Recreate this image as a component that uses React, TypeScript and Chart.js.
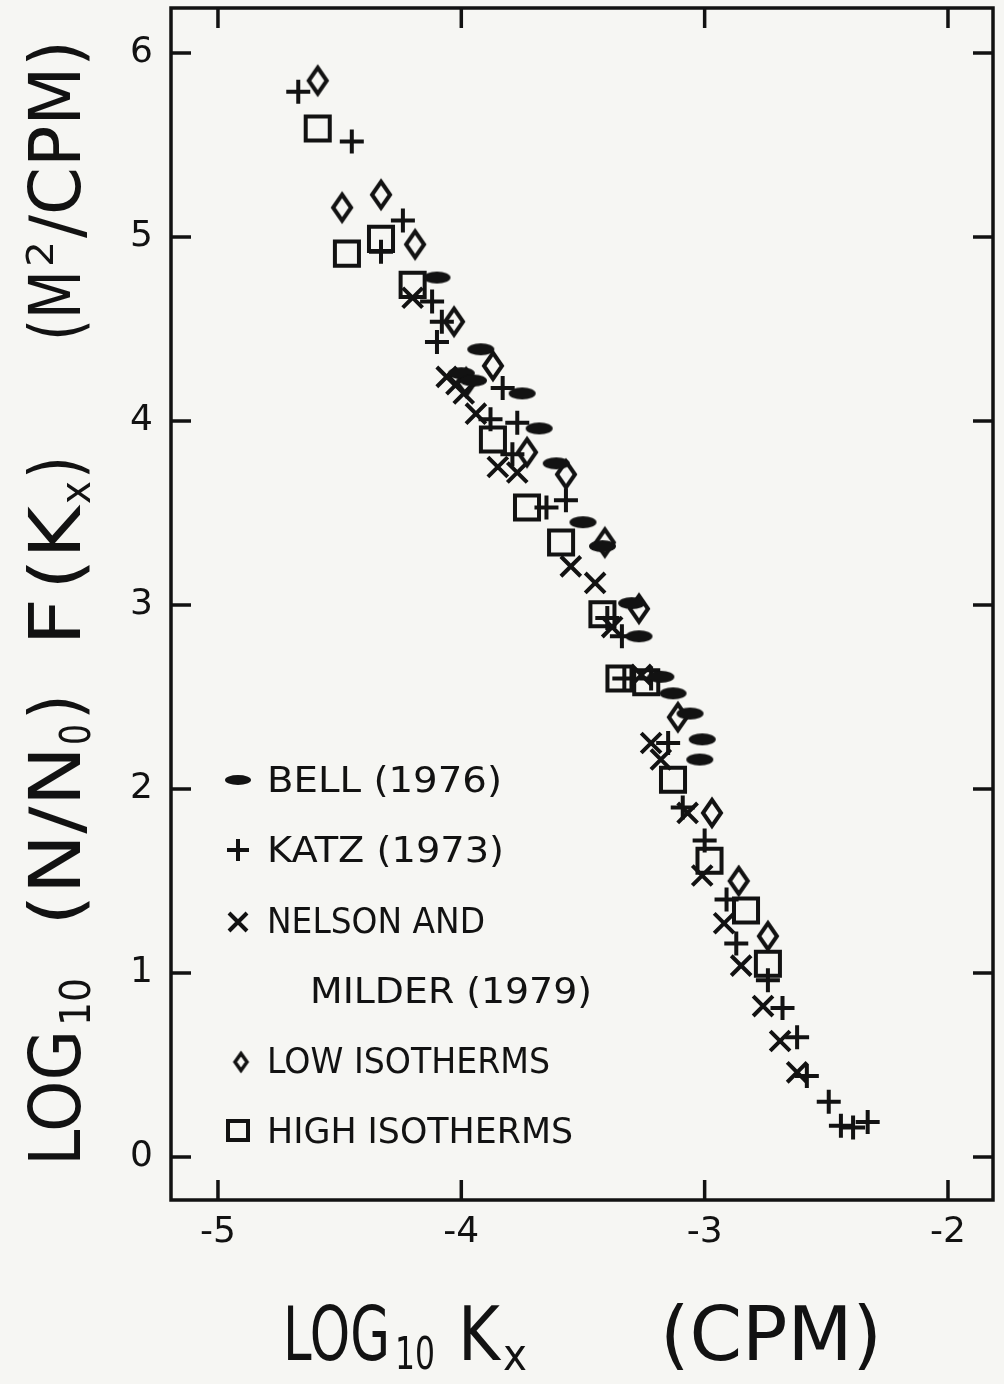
import React, { useEffect, useRef } from "react";
import { Chart, registerables } from "chart.js";

Chart.register(...registerables);

// ---------- data ----------
const xTicks = [-5, -4, -3, -2];
const yTicks = [0, 1, 2, 3, 4, 5, 6];
const xMin = -5.193;
const xMax = -1.815;
const yMin = -0.234;
const yMax = 6.245;

const bell: [number, number][] = [
  [-4.1, 4.78], [-3.92, 4.39], [-4.0, 4.26], [-3.95, 4.22], [-3.75, 4.15],
  [-3.68, 3.96], [-3.61, 3.77], [-3.5, 3.45], [-3.42, 3.32], [-3.3, 3.01],
  [-3.27, 2.83], [-3.18, 2.61], [-3.13, 2.52], [-3.06, 2.41], [-3.01, 2.27],
  [-3.02, 2.16],
];
const katz: [number, number][] = [
  [-4.67, 5.79], [-4.45, 5.52], [-4.24, 5.09], [-4.33, 4.92], [-4.12, 4.65],
  [-4.08, 4.54], [-4.1, 4.43], [-3.83, 4.18], [-3.88, 4.01], [-3.77, 3.99],
  [-3.79, 3.82], [-3.65, 3.53], [-3.57, 3.57], [-3.4, 2.93], [-3.34, 2.83],
  [-3.33, 2.6], [-3.22, 2.6], [-3.15, 2.25], [-3.09, 1.9], [-3.0, 1.72],
  [-2.91, 1.4], [-2.87, 1.16], [-2.74, 0.96], [-2.68, 0.81], [-2.62, 0.65],
  [-2.58, 0.44], [-2.49, 0.3], [-2.44, 0.17], [-2.39, 0.16], [-2.33, 0.19],
];
const nelson: [number, number][] = [
  [-4.2, 4.67], [-4.06, 4.24], [-4.02, 4.2], [-3.99, 4.15], [-3.94, 4.04],
  [-3.85, 3.75], [-3.77, 3.72], [-3.55, 3.21], [-3.45, 3.12], [-3.38, 2.88],
  [-3.26, 2.62], [-3.22, 2.25], [-3.18, 2.16], [-3.07, 1.87], [-3.01, 1.53],
  [-2.92, 1.27], [-2.85, 1.04], [-2.76, 0.82], [-2.69, 0.63], [-2.62, 0.46],
];
const lowIso: [number, number][] = [
  [-4.59, 5.85], [-4.33, 5.23], [-4.49, 5.16], [-4.19, 4.96], [-4.03, 4.54],
  [-3.87, 4.3], [-3.98, 4.21], [-3.73, 3.83], [-3.57, 3.71], [-3.41, 3.34],
  [-3.27, 2.98], [-3.11, 2.39], [-2.97, 1.87], [-2.86, 1.5], [-2.74, 1.2],
];
const highIso: [number, number][] = [
  [-4.59, 5.59], [-4.47, 4.91], [-4.33, 4.99], [-4.2, 4.74], [-3.87, 3.9],
  [-3.73, 3.53], [-3.59, 3.34], [-3.42, 2.95], [-3.35, 2.6], [-3.24, 2.58],
  [-3.13, 2.05], [-2.98, 1.61], [-2.83, 1.34], [-2.74, 1.05],
];

const legendLabels = ["BELL (1976)", "KATZ (1973)", "NELSON AND", "MILDER (1979)", "LOW ISOTHERMS", "HIGH ISOTHERMS"];

// ---------- style ----------
const BG = "#f6f6f3";
const INK = "#121212";
const FONT = "'DejaVu Sans', 'Liberation Sans', sans-serif";

function makeCanvas(w: number, h: number, draw: (c: CanvasRenderingContext2D) => void) {
  const c = document.createElement("canvas");
  c.width = w;
  c.height = h;
  const g = c.getContext("2d")!;
  draw(g);
  return c;
}

function ellipseMarker(w: number, h: number) {
  return makeCanvas(w + 2, h + 2, (g) => {
    g.fillStyle = INK;
    g.beginPath();
    g.ellipse((w + 2) / 2, (h + 2) / 2, w / 2, h / 2, 0, 0, Math.PI * 2);
    g.fill();
  });
}

function diamondMarker(w: number, h: number, lw: number) {
  const W = w + lw * 2 + 2;
  const H = h + lw * 2 + 2;
  return makeCanvas(W, H, (g) => {
    g.strokeStyle = INK;
    g.lineWidth = lw;
    g.lineJoin = "miter";
    g.beginPath();
    g.moveTo(W / 2, H / 2 - h / 2);
    g.lineTo(W / 2 + w / 2, H / 2);
    g.lineTo(W / 2, H / 2 + h / 2);
    g.lineTo(W / 2 - w / 2, H / 2);
    g.closePath();
    g.stroke();
  });
}

type Seg = { t: string; s: number; e: number; size: number; off: number };

function drawSegs(ctx: CanvasRenderingContext2D, segs: Seg[]) {
  for (const sg of segs) {
    ctx.save();
    ctx.font = `${sg.size}px ${FONT}`;
    const w = ctx.measureText(sg.t).width;
    ctx.translate(sg.s, sg.off);
    ctx.scale((sg.e - sg.s) / w, 1);
    ctx.textBaseline = "alphabetic";
    ctx.textAlign = "left";
    ctx.fillText(sg.t, 0, 0);
    ctx.restore();
  }
}

export default function App() {
  const ref = useRef<HTMLCanvasElement | null>(null);

  useEffect(() => {
    if (!ref.current) return;
    const bellImg = ellipseMarker(27, 12);
    const diamondImg = diamondMarker(18, 26, 4);
    const legBell = ellipseMarker(26, 10);
    const legDiamond = diamondMarker(12, 17, 3.5);

    const decor = {
      id: "decor",
      beforeDraw(chart: any) {
        const { ctx, width, height } = chart;
        ctx.save();
        ctx.fillStyle = BG;
        ctx.fillRect(0, 0, width, height);
        ctx.restore();
      },
      afterDatasetsDraw(chart: any) {
        const { ctx, chartArea: a, scales } = chart;
        ctx.save();
        ctx.strokeStyle = INK;
        ctx.fillStyle = INK;
        ctx.lineCap = "butt";
        // frame
        ctx.lineWidth = 3.5;
        ctx.strokeRect(a.left, a.top, a.right - a.left, a.bottom - a.top);
        // inward ticks on all four sides
        ctx.lineWidth = 3.5;
        const L = 20;
        ctx.beginPath();
        for (const v of xTicks) {
          const px = scales.x.getPixelForValue(v);
          ctx.moveTo(px, a.bottom);
          ctx.lineTo(px, a.bottom - L);
          ctx.moveTo(px, a.top);
          ctx.lineTo(px, a.top + L);
        }
        for (const v of yTicks) {
          const py = scales.y.getPixelForValue(v);
          ctx.moveTo(a.left, py);
          ctx.lineTo(a.left + L, py);
          ctx.moveTo(a.right, py);
          ctx.lineTo(a.right - L, py);
        }
        ctx.stroke();

        // legend
        const mx = a.left + 67;
        const tx = a.left + 96;
        const rows = [
          { b: 792, s: tx, e: tx + 235 },
          { b: 862, s: tx, e: tx + 237 },
          { b: 933, s: tx, e: tx + 218 },
          { b: 1003, s: tx + 43, e: tx + 325 },
          { b: 1073, s: tx, e: tx + 283 },
          { b: 1143, s: tx, e: tx + 306 },
        ];
        rows.forEach((r, i) => {
          drawSegs(ctx, [{ t: legendLabels[i], s: r.s, e: r.e, size: 35, off: r.b }]);
        });
        ctx.drawImage(legBell, mx - legBell.width / 2, 780 - legBell.height / 2);
        ctx.lineWidth = 4;
        ctx.beginPath();
        ctx.moveTo(mx - 11, 850);
        ctx.lineTo(mx + 11, 850);
        ctx.moveTo(mx, 839);
        ctx.lineTo(mx, 861);
        ctx.moveTo(mx - 9, 913);
        ctx.lineTo(mx + 9, 931);
        ctx.moveTo(mx + 9, 913);
        ctx.lineTo(mx - 9, 931);
        ctx.stroke();
        ctx.drawImage(legDiamond, mx + 3 - legDiamond.width / 2, 1062 - legDiamond.height / 2);
        ctx.lineWidth = 4;
        ctx.strokeRect(mx - 10, 1121, 20, 19);

        // x axis title
        ctx.save();
        ctx.translate(0, 1360);
        drawSegs(ctx, [
          { t: "LOG", s: 283, e: 390, size: 75, off: 0 },
          { t: "10", s: 395, e: 435, size: 45, off: 9 },
          { t: "K", s: 458, e: 500, size: 75, off: 0 },
          { t: "x", s: 503, e: 527, size: 45, off: 10 },
          { t: "(CPM)", s: 660, e: 882, size: 75, off: 0 },
        ]);
        ctx.restore();

        // y axis title (rotated)
        ctx.save();
        ctx.translate(80, 1166);
        ctx.rotate(-Math.PI / 2);
        drawSegs(ctx, [
          { t: "LOG", s: 0, e: 136, size: 71, off: 0 },
          { t: "10", s: 140, e: 188, size: 43, off: 10 },
          { t: "(N/N", s: 240, e: 420, size: 71, off: 0 },
          { t: "0", s: 421, e: 442, size: 43, off: 10 },
          { t: ")", s: 446, e: 472, size: 71, off: 0 },
          { t: "F", s: 520, e: 568, size: 71, off: 0 },
          { t: "(K", s: 576, e: 660, size: 71, off: 0 },
          { t: "x", s: 662, e: 685, size: 43, off: 10 },
          { t: ")", s: 687, e: 710, size: 71, off: 0 },
          { t: "(M", s: 825, e: 896, size: 71, off: 0 },
          { t: "2", s: 899, e: 925, size: 38, off: -27 },
          { t: "/CPM)", s: 928, e: 1126, size: 71, off: 0 },
        ]);
        ctx.restore();

        ctx.restore();
      },
    };

    const toPts = (arr: [number, number][]) => arr.map(([x, y]) => ({ x, y }));

    const chart = new Chart(ref.current, {
      type: "scatter",
      data: {
        datasets: [
          { label: legendLabels[0], data: toPts(bell), pointStyle: bellImg as any, pointRadius: 10, borderWidth: 0 },
          { label: legendLabels[1], data: toPts(katz), pointStyle: "cross", pointRadius: 12, borderColor: INK, borderWidth: 4 },
          { label: legendLabels[2], data: toPts(nelson), pointStyle: "crossRot", pointRadius: 14, borderColor: INK, borderWidth: 4 },
          { label: legendLabels[4], data: toPts(lowIso), pointStyle: diamondImg as any, pointRadius: 12, borderWidth: 0 },
          { label: legendLabels[5], data: toPts(highIso), pointStyle: "rect", pointRadius: 17, borderColor: INK, backgroundColor: "rgba(0,0,0,0)", borderWidth: 4 },
        ],
      },
      options: {
        animation: false,
        responsive: false,
        events: [],
        layout: { autoPadding: false, padding: { left: 0, top: 8, right: 11, bottom: 0 } },
        plugins: { legend: { display: false }, tooltip: { enabled: false } },
        scales: {
          x: {
            type: "linear",
            min: xMin,
            max: xMax,
            grid: { display: false, drawTicks: false },
            border: { display: false },
            ticks: {
              font: { family: FONT, size: 36 },
              color: INK,
              padding: 11,
              maxRotation: 0,
              autoSkip: false,
              callback: (v: any) => String(v),
            },
            afterBuildTicks: (s: any) => {
              s.ticks = xTicks.map((v) => ({ value: v }));
            },
            afterFit: (s: any) => {
              s.height = 184;
              s.paddingLeft = 0;
              s.paddingRight = 0;
            },
          },
          y: {
            type: "linear",
            min: yMin,
            max: yMax,
            grid: { display: false, drawTicks: false },
            border: { display: false },
            ticks: {
              font: { family: FONT, size: 36 },
              color: INK,
              padding: 18,
              autoSkip: false,
              callback: (v: any) => String(v),
            },
            afterBuildTicks: (s: any) => {
              s.ticks = yTicks.map((v) => ({ value: v }));
            },
            afterFit: (s: any) => {
              s.width = 171;
              s.paddingTop = 0;
              s.paddingBottom = 0;
            },
          },
        },
      },
      plugins: [decor],
    });
    return () => chart.destroy();
  }, []);

  return (
    <div style={{ position: "absolute", left: 0, top: 0, width: 1004, height: 1384, background: BG }}>
      <canvas ref={ref} width={1004} height={1384} style={{ display: "block", width: 1004, height: 1384 }} />
    </div>
  );
}
